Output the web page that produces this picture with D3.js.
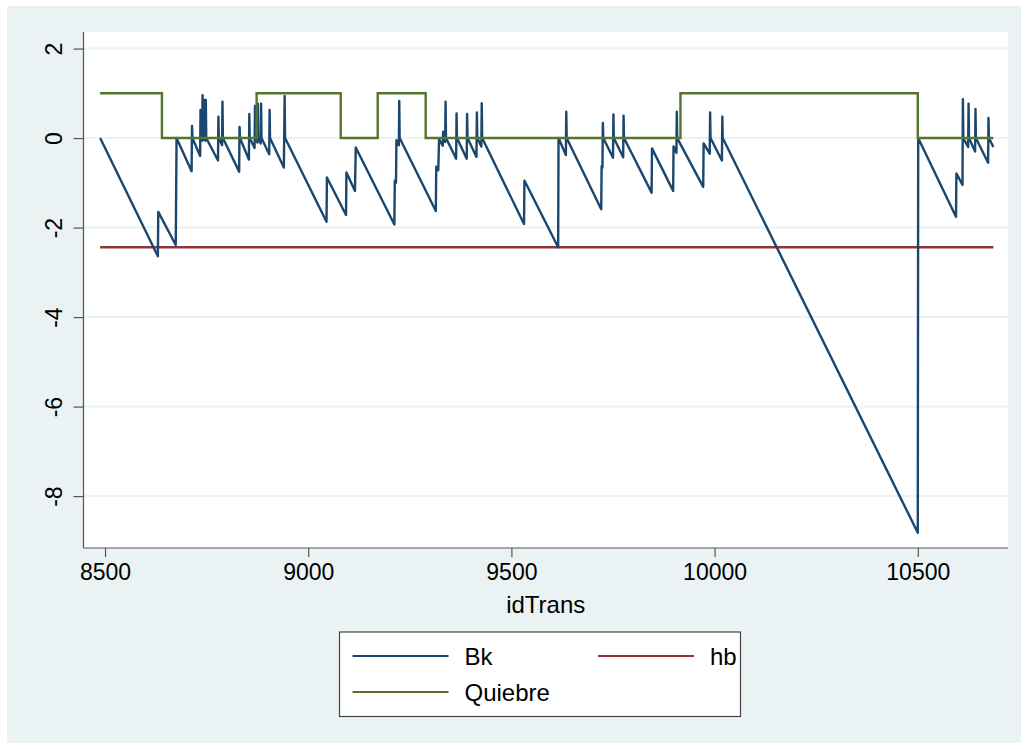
<!DOCTYPE html>
<html>
<head>
<meta charset="utf-8">
<script src="https://cdn.jsdelivr.net/npm/d3@7"></script>
<style>
  body { margin: 0; background: #ffffff; }
  svg { display: block; }
  text { font-family: "Liberation Sans", Arial, Helvetica, sans-serif; fill: #000; }
</style>
</head>
<body>
<svg id="chart" width="1028" height="749"></svg>
<script>
// Bk: cumulative statistic by transaction id
const bkId = [
  8488, 8630, 8631, 8674, 8676, 8713, 8714, 8715, 8734, 8735, 8736, 8739, 8740, 8741,
  8743, 8744, 8745, 8747, 8748, 8749, 8778, 8779, 8780, 8788, 8789, 8790, 8830, 8831,
  8832, 8854, 8855, 8856, 8868, 8869, 8870, 8875, 8876, 8877, 8883, 8884, 8885, 8904,
  8905, 8906, 8940, 8942, 8943, 9045, 9046, 9093, 9094, 9115, 9117, 9212, 9213, 9216,
  9217, 9223, 9224, 9225, 9314, 9315, 9320, 9322, 9331, 9332, 9333, 9337, 9338, 9339,
  9364, 9365, 9366, 9390, 9391, 9392, 9414, 9415, 9416, 9426, 9427, 9428, 9531, 9532,
  9615, 9616, 9634, 9635, 9636, 9721, 9722, 9724, 9725, 9726, 9750, 9751, 9752, 9775,
  9776, 9777, 9845, 9846, 9898, 9899, 9906, 9907, 9908, 9972, 9973, 9988, 9989, 9990,
  10018, 10019, 10020, 10500, 10501, 10594, 10595, 10610, 10611, 10612, 10624, 10625,
  10626, 10641, 10642, 10643, 10673, 10674, 10675, 10686
];
const bkVal = [
  0, -2.64, -1.65, -2.39, 0, -0.74, 0.27, 0, -0.40, 0.63, 0, -0.06, 0.96, 0,
  -0.04, 0.85, 0, -0.06, 0.85, 0, -0.50, 0.48, 0, -0.16, 0.81, 0, -0.75, 0.25,
  0, -0.48, 0.54, 0, -0.22, 0.72, 0, -0.10, 0.77, 0, -0.12, 0.77, 0, -0.36,
  0.63, 0, -0.66, 0.94, 0, -1.87, -0.88, -1.72, -0.77, -1.18, -0.21, -1.93, -0.95, -1.00,
  -0.05, -0.16, 0.83, 0, -1.63, -0.64, -0.72, -0.02, -0.17, 0.14, 0, -0.09, 0.81, 0,
  -0.46, 0.55, 0, -0.46, 0.54, 0, -0.42, 0.57, 0, -0.19, 0.78, 0, -1.92, -0.95,
  -2.44, 0, -0.38, 0.59, 0, -1.59, -0.63, -0.66, 0.34, 0, -0.44, 0.53, 0, -0.43,
  0.50, 0, -1.22, -0.23, -1.18, -0.19, -0.33, 0.59, 0, -1.09, -0.12, -0.35, 0.57, 0,
  -0.50, 0.48, 0, -8.82, 0, -1.76, -0.79, -1.05, 0.87, 0, -0.20, 0.77,
  0, -0.30, 0.65, 0, -0.55, 0.45, 0, -0.20
];

// Quiebre: break indicator (0/1), listed at each change
const quiebreId = [8488, 8640, 8873, 9080, 9171, 9289, 9916, 10500, 10686];
const quiebreVal = [1, 0, 1, 0, 1, 0, 1, 0, 0];

// hb: threshold
const hbId = [8488, 10686];
const hbVal = [-2.44, -2.44];

const xTicks = [8500, 9000, 9500, 10000, 10500];
const yTicks = [2, 0, -2, -4, -6, -8];
const xTitle = "idTrans";
const seriesNames = ["Bk", "hb", "Quiebre"];
const seriesColors = ["#1a476f", "#90353b", "#55752f"];

const svg = d3.select("#chart");
const fontStack = '"Liberation Sans", Arial, sans-serif';
const plainNum = d => String(d); // ASCII hyphen for negatives

// graph region
svg.append("rect")
  .attr("x", 7).attr("y", 6).attr("width", 1014).attr("height", 737)
  .attr("fill", "#eaf2f3");

const plot = { left: 83.5, right: 1008, top: 32, bottom: 548 };

svg.append("rect")
  .attr("x", plot.left).attr("y", plot.top)
  .attr("width", plot.right - plot.left).attr("height", plot.bottom - plot.top)
  .attr("fill", "#ffffff");

const x = d3.scaleLinear().domain([8447, 10722]).range([plot.left, plot.right]);
const y = d3.scaleLinear().domain([-9.16, 2.37]).range([plot.bottom, plot.top]);

// grid lines
svg.append("g")
  .selectAll("line")
  .data(yTicks)
  .join("line")
  .attr("x1", plot.left).attr("x2", plot.right)
  .attr("y1", d => y(d)).attr("y2", d => y(d))
  .attr("stroke", "#eaf2f3").attr("stroke-width", 2);

// axes
const xAxis = svg.append("g")
  .attr("transform", `translate(0,${plot.bottom})`)
  .call(d3.axisBottom(x).tickValues(xTicks).tickFormat(plainNum).tickSize(9).tickPadding(7));
xAxis.select(".domain").remove();
xAxis.selectAll("line").attr("stroke", "#555").attr("stroke-width", 1.2);
xAxis.selectAll("text").attr("font-size", 23).attr("fill", "#000")
  .style("font-family", fontStack);

const yAxis = svg.append("g")
  .attr("transform", `translate(${plot.left},0)`)
  .call(d3.axisLeft(y).tickValues(yTicks).tickFormat(plainNum).tickSize(10).tickPadding(0));
yAxis.select(".domain").remove();
yAxis.selectAll("line").attr("stroke", "#555").attr("stroke-width", 1.2);
yAxis.selectAll("text")
  .attr("x", null).attr("dy", null)
  .attr("text-anchor", "middle")
  .attr("transform", "translate(-20,0) rotate(-90)")
  .attr("dy", "-0.05em")
  .attr("font-size", 23).attr("fill", "#000")
  .style("font-family", fontStack);

// axis lines
svg.append("line")
  .attr("x1", plot.left).attr("x2", plot.left)
  .attr("y1", plot.top).attr("y2", plot.bottom)
  .attr("stroke", "#555").attr("stroke-width", 1.2);
svg.append("line")
  .attr("x1", plot.left).attr("x2", plot.right)
  .attr("y1", plot.bottom).attr("y2", plot.bottom)
  .attr("stroke", "#555").attr("stroke-width", 1.2);

// axis title
svg.append("text")
  .attr("x", (plot.left + plot.right) / 2)
  .attr("y", 613)
  .attr("text-anchor", "middle")
  .attr("font-size", 24)
  .text(xTitle);

// series
const lineGen = d3.line().x(d => x(d[0])).y(d => y(d[1]));
const stepGen = d3.line().x(d => x(d[0])).y(d => y(d[1])).curve(d3.curveStepAfter);

const plotG = svg.append("g");

plotG.append("path")
  .datum(hbId.map((d, i) => [d, hbVal[i]]))
  .attr("d", lineGen)
  .attr("fill", "none").attr("stroke", seriesColors[1]).attr("stroke-width", 2.4);

plotG.append("path")
  .datum(bkId.map((d, i) => [d, bkVal[i]]))
  .attr("d", lineGen)
  .attr("fill", "none").attr("stroke", seriesColors[0]).attr("stroke-width", 2.4)
  .attr("stroke-linejoin", "round");

plotG.append("path")
  .datum(quiebreId.map((d, i) => [d, quiebreVal[i]]))
  .attr("d", stepGen)
  .attr("fill", "none").attr("stroke", seriesColors[2]).attr("stroke-width", 2.4);

// legend
const legend = svg.append("g");
legend.append("rect")
  .attr("x", 339.5).attr("y", 632).attr("width", 401).attr("height", 84.5)
  .attr("fill", "#ffffff").attr("stroke", "#444").attr("stroke-width", 1.2);

const legendItems = [
  { name: seriesNames[0], color: seriesColors[0], lx: 352.5, ly: 656 },
  { name: seriesNames[1], color: seriesColors[1], lx: 598, ly: 656 },
  { name: seriesNames[2], color: seriesColors[2], lx: 352.5, ly: 692 }
];
legendItems.forEach(it => {
  legend.append("line")
    .attr("x1", it.lx).attr("x2", it.lx + 96)
    .attr("y1", it.ly).attr("y2", it.ly)
    .attr("stroke", it.color).attr("stroke-width", 2);
  legend.append("text")
    .attr("x", it.lx + 112).attr("y", it.ly)
    .attr("dy", "0.36em")
    .attr("font-size", 24)
    .text(it.name);
});
</script>
</body>
</html>
